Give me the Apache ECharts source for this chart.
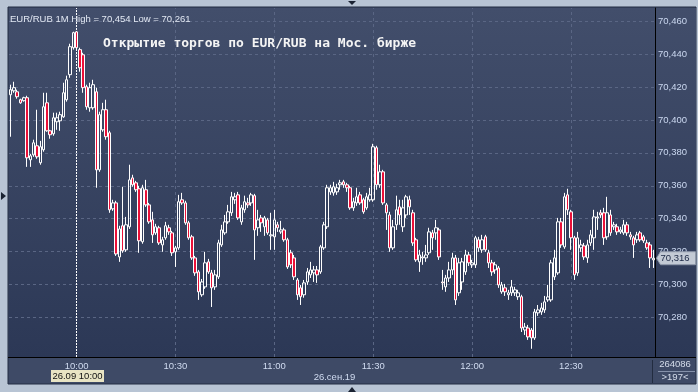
<!DOCTYPE html>
<html><head><meta charset="utf-8">
<script src="https://cdn.jsdelivr.net/npm/echarts@6/dist/echarts.min.js"></script>
<style>html,body{margin:0;padding:0;background:#b8c4d4;overflow:hidden}#c{width:698px;height:392px}</style>
</head><body><div id="c"></div>
<script>
// ---- data ----
const startMinute = 9 * 60 + 40;   // first bar 9:40
const barCount = 196;
const xTickLabels = ['10:00', '10:30', '11:00', '11:30', '12:00', '12:30'];
const crosshairTime = '10:00';
const yTicks = [70.28, 70.30, 70.32, 70.34, 70.36, 70.38, 70.40, 70.42, 70.44, 70.46];
const infoText = 'EUR/RUB 1M High = 70,454 Low = 70,261';
const titleText = 'Открытие торгов по EUR/RUB на Мос. бирже';
const dateText = '26.09 10:00';
const dayText = '26.сен.19';
const volumeText = '264086';
const barsText = '>197<';

const opens = [
70.4153,70.4177,70.4171,70.4123,70.4117,70.4135,70.3758,70.3788,70.3843,70.3740,
70.3819,70.4104,70.3934,70.3916,70.3989,70.3995,70.4019,70.4123,70.4275,70.4439,
70.4535,70.4427,70.4396,70.4202,70.4074,70.4074,70.4171,70.3697,70.3940,70.4062,
70.3922,70.3460,70.3496,70.3168,70.3357,70.3211,70.3351,70.3648,70.3618,70.3582,
70.3260,70.3576,70.3484,70.3393,70.3314,70.3345,70.3241,70.3284,70.3345,70.3314,
70.3199,70.3223,70.3515,70.3496,70.3375,70.3290,70.3162,70.3077,70.2938,70.2986,
70.3138,70.3071,70.2986,70.3047,70.3241,70.3314,70.3381,70.3436,70.3515,70.3545,
70.3381,70.3454,70.3496,70.3496,70.3540,70.3345,70.3405,70.3351,70.3393,70.3296,
70.3290,70.3363,70.3320,70.3332,70.3272,70.3193,70.3162,70.3028,70.2980,70.2938,
70.3016,70.3059,70.3071,70.3089,70.3077,70.3223,70.3351,70.3563,70.3557,70.3563,
70.3606,70.3624,70.3606,70.3588,70.3466,70.3496,70.3545,70.3515,70.3466,70.3515,
70.3515,70.3831,70.3606,70.3685,70.3484,70.3423,70.3223,70.3363,70.3472,70.3351,
70.3423,70.3515,70.3436,70.3272,70.3138,70.3162,70.3162,70.3193,70.3314,70.3314,
70.3332,70.3016,70.2986,70.3040,70.3089,70.3162,70.2950,70.3016,70.3077,70.3180,
70.3120,70.3120,70.3272,70.3211,70.3290,70.3193,70.3132,70.3089,70.3101,70.2956,
70.2980,70.2938,70.2950,70.2950,70.2926,70.2926,70.2724,70.2736,70.2724,70.2676,
70.2828,70.2834,70.2846,70.2907,70.2907,70.3047,70.3071,70.3381,70.3229,70.3545,
70.3442,70.3284,70.3071,70.3223,70.3235,70.3162,70.3253,70.3284,70.3405,70.3436,
70.3436,70.3290,70.3423,70.3351,70.3351,70.3320,70.3314,70.3363,70.3302,70.3284,
70.3272,70.3314,70.3290,70.3253,70.3241,70.3150];
const closes = [
70.4184,70.4196,70.4141,70.4104,70.4135,70.3770,70.3782,70.3861,70.3776,70.3837,
70.4080,70.3934,70.3910,70.4013,70.4013,70.4032,70.4165,70.4244,70.4445,70.4530,
70.4439,70.4317,70.4196,70.4080,70.4196,70.4214,70.3697,70.4032,70.4062,70.3898,
70.3454,70.3496,70.3186,70.3338,70.3205,70.3363,70.3636,70.3606,70.3576,70.3266,
70.3588,70.3484,70.3381,70.3302,70.3351,70.3253,70.3272,70.3357,70.3320,70.3193,
70.3223,70.3503,70.3496,70.3375,70.3284,70.3162,70.3071,70.2956,70.3016,70.3132,
70.3077,70.2980,70.3059,70.3253,70.3332,70.3381,70.3442,70.3533,70.3533,70.3405,
70.3466,70.3503,70.3484,70.3545,70.3332,70.3393,70.3375,70.3405,70.3314,70.3302,
70.3393,70.3345,70.3332,70.3272,70.3107,70.3120,70.3047,70.2938,70.2926,70.3010,
70.3077,70.3089,70.3089,70.3059,70.3229,70.3363,70.3588,70.3588,70.3594,70.3588,
70.3618,70.3606,70.3588,70.3466,70.3503,70.3533,70.3496,70.3442,70.3533,70.3545,
70.3837,70.3606,70.3685,70.3496,70.3436,70.3223,70.3351,70.3454,70.3423,70.3466,
70.3533,70.3472,70.3253,70.3150,70.3180,70.3168,70.3180,70.3320,70.3284,70.3345,
70.3168,70.3010,70.3040,70.3089,70.3162,70.2907,70.3132,70.3138,70.3180,70.3132,
70.3132,70.3284,70.3223,70.3272,70.3211,70.3132,70.3077,70.3120,70.2998,70.2998,
70.2956,70.2950,70.2986,70.2968,70.2950,70.2736,70.2742,70.2682,70.2676,70.2834,
70.2846,70.2858,70.2895,70.2925,70.3132,70.3162,70.3381,70.3241,70.3533,70.3454,
70.3284,70.3059,70.3284,70.3241,70.3168,70.3241,70.3302,70.3411,70.3411,70.3423,
70.3284,70.3436,70.3314,70.3363,70.3320,70.3332,70.3363,70.3314,70.3290,70.3241,
70.3302,70.3272,70.3266,70.3223,70.3162,70.3160];
const lows = [
70.3898,70.4165,70.4129,70.4098,70.4111,70.3715,70.3715,70.3776,70.3764,70.3728,
70.3807,70.3928,70.3886,70.3904,70.3940,70.3934,70.4013,70.4111,70.4256,70.4427,
70.4427,70.4293,70.4165,70.4062,70.4050,70.4062,70.3588,70.3685,70.3928,70.3880,
70.3436,70.3448,70.3174,70.3138,70.3193,70.3199,70.3338,70.3594,70.3563,70.3193,
70.3248,70.3472,70.3369,70.3253,70.3302,70.3241,70.3199,70.3272,70.3302,70.3174,
70.3107,70.3211,70.3484,70.3363,70.3272,70.3150,70.3053,70.2907,70.2926,70.2974,
70.3065,70.2864,70.2968,70.3034,70.3229,70.3302,70.3369,70.3417,70.3490,70.3393,
70.3363,70.3436,70.3466,70.3478,70.3150,70.3296,70.3320,70.3296,70.3302,70.3211,
70.3211,70.3320,70.3308,70.3260,70.3095,70.3101,70.3028,70.2907,70.2876,70.2920,
70.2998,70.3040,70.3016,70.3010,70.3065,70.3211,70.3338,70.3545,70.3540,70.3545,
70.3576,70.3588,70.3563,70.3454,70.3448,70.3478,70.3484,70.3430,70.3454,70.3503,
70.3503,70.3576,70.3588,70.3484,70.3332,70.3199,70.3211,70.3332,70.3363,70.3320,
70.3405,70.3423,70.3235,70.3138,70.3077,70.3120,70.3138,70.3180,70.3211,70.3272,
70.3150,70.2968,70.2956,70.3016,70.3059,70.2876,70.2931,70.2968,70.3059,70.3113,
70.3101,70.3101,70.3199,70.3193,70.3199,70.3101,70.3053,70.3065,70.2980,70.2944,
70.2931,70.2907,70.2931,70.2931,70.2907,70.2712,70.2694,70.2664,70.2610,70.2664,
70.2810,70.2816,70.2828,70.2895,70.2895,70.3028,70.3059,70.3223,70.3217,70.3423,
70.3211,70.3028,70.3053,70.3199,70.3150,70.3132,70.3235,70.3211,70.3332,70.3405,
70.3241,70.3272,70.3296,70.3332,70.3302,70.3308,70.3302,70.3296,70.3272,70.3162,
70.3253,70.3260,70.3253,70.3211,70.3101,70.3101];
const highs = [
70.4214,70.4232,70.4184,70.4129,70.4141,70.4147,70.3794,70.3880,70.4062,70.3873,
70.4165,70.4165,70.3940,70.4044,70.4044,70.4050,70.4226,70.4269,70.4463,70.4536,
70.4540,70.4439,70.4408,70.4214,70.4226,70.4244,70.4196,70.4050,70.4104,70.4123,
70.3934,70.3515,70.3509,70.3357,70.3594,70.3411,70.3728,70.3667,70.3630,70.3600,
70.3606,70.3636,70.3496,70.3442,70.3369,70.3357,70.3290,70.3381,70.3363,70.3326,
70.3235,70.3545,70.3557,70.3509,70.3387,70.3302,70.3174,70.3089,70.3034,70.3199,
70.3156,70.3089,70.3089,70.3272,70.3363,70.3423,70.3484,70.3563,70.3557,70.3563,
70.3484,70.3540,70.3527,70.3557,70.3551,70.3454,70.3423,70.3417,70.3405,70.3436,
70.3454,70.3381,70.3387,70.3345,70.3284,70.3211,70.3180,70.3040,70.2998,70.3028,
70.3101,70.3138,70.3113,70.3113,70.3241,70.3381,70.3606,70.3606,70.3624,70.3612,
70.3636,70.3636,70.3618,70.3600,70.3527,70.3588,70.3563,70.3527,70.3557,70.3588,
70.3855,70.3843,70.3728,70.3697,70.3496,70.3442,70.3393,70.3540,70.3515,70.3515,
70.3545,70.3540,70.3454,70.3284,70.3211,70.3199,70.3241,70.3345,70.3332,70.3393,
70.3345,70.3089,70.3059,70.3138,70.3193,70.3180,70.3162,70.3162,70.3211,70.3199,
70.3150,70.3296,70.3290,70.3302,70.3302,70.3211,70.3150,70.3138,70.3113,70.3016,
70.3004,70.2968,70.3028,70.2986,70.2968,70.2938,70.2767,70.2755,70.2736,70.2852,
70.2876,70.2889,70.2931,70.2998,70.3150,70.3211,70.3405,70.3405,70.3557,70.3582,
70.3454,70.3296,70.3320,70.3272,70.3253,70.3272,70.3332,70.3454,70.3442,70.3454,
70.3466,70.3533,70.3454,70.3381,70.3369,70.3351,70.3393,70.3381,70.3320,70.3296,
70.3320,70.3326,70.3302,70.3272,70.3259,70.3211];

// ---- build ----
const categories = [];
for (let i = 0; i < barCount; i++) {
  const m = startMinute + i;
  categories.push(Math.floor(m / 60) + ':' + String(m % 60).padStart(2, '0'));
}
const candleData = opens.map((o, i) => [o, closes[i], lows[i], highs[i]]);
const fmt = v => v.toFixed(3).replace('.', ',');

const FONT = 'Liberation Sans';
const gridColor = '#5a6684';
const chart = echarts.init(document.getElementById('c'), null, {renderer: 'canvas'});

const option = {
  animation: false,
  backgroundColor: '#b8c4d4',
  title: [
    {text: titleText, left: 103, top: 37, padding: 0,
     textStyle: {color: '#f4f4f4', fontFamily: 'DejaVu Sans Mono', fontSize: 13, fontWeight: 'bold'}},
    {text: infoText, left: 10, top: 14, padding: 0,
     textStyle: {color: '#e2e8f3', fontFamily: FONT, fontSize: 9.5, fontWeight: 'normal'}}
  ],
  grid: {left: 9, right: 43, top: 8, bottom: 35, containLabel: false},
  xAxis: {
    type: 'category', data: categories, boundaryGap: true,
    axisLine: {show: false}, axisTick: {show: false},
    axisLabel: {
      interval: (idx, val) => xTickLabels.indexOf(val) >= 0,
      color: '#d0dbf0', fontFamily: FONT, fontSize: 9.5, margin: 4
    },
    splitLine: {show: false}
  },
  yAxis: {
    type: 'value', position: 'right', min: 70.256, max: 70.468, scale: true,
    axisLine: {show: true, lineStyle: {color: '#000000', width: 1}},
    axisTick: {show: false, customValues: yTicks},
    axisLabel: {customValues: yTicks, formatter: fmt, color: '#cbd8f0', fontFamily: FONT, fontSize: 9.5, margin: 3},
    splitLine: {show: false}
  },
  series: [{
    type: 'candlestick',
    data: candleData,
    barWidth: 3,
    itemStyle: {
      color: 'rgba(0,0,0,0)', color0: '#ea1038',
      borderColor: '#ffffff', borderColor0: '#ffffff', borderColorDoji: '#ffffff', borderWidth: 1
    },
    markLine: {
      silent: true, symbol: 'none', z: 1, animation: false,
      label: {show: false},
      data: [].concat(
        yTicks.map(v => ({yAxis: v, lineStyle: {color: gridColor, type: [3, 3], width: 1}})),
        xTickLabels.filter(t => t !== crosshairTime).map(t => ({xAxis: t, lineStyle: {color: gridColor, type: [3, 3], width: 1}})),
        [{xAxis: crosshairTime, lineStyle: {color: '#ffffff', type: [2, 1], width: 1}}]
      )
    }
  }],
  graphic: [
    {type: 'rect', z: -20, shape: {x: 8, y: 7, width: 688, height: 377}, style: {fill: '#3e4a66', stroke: '#232d42', lineWidth: 1}},
    {type: 'rect', z: -19, shape: {x: 9, y: 8, width: 687, height: 349},
     style: {fill: new echarts.graphic.LinearGradient(0, 0, 0, 1, [{offset: 0, color: '#424e6b'}, {offset: 1, color: '#2c3856'}])}},
    {type: 'line', z: 50, shape: {x1: 8, y1: 357.5, x2: 696, y2: 357.5}, style: {stroke: '#000000', lineWidth: 1}},
    {type: 'line', z: 50, shape: {x1: 652.5, y1: 360, x2: 652.5, y2: 383}, style: {stroke: '#222c40', lineWidth: 1}},
    {type: 'line', z: 50, shape: {x1: 658, y1: 371.5, x2: 695, y2: 371.5}, style: {stroke: '#8591aa', lineWidth: 1}},
    {type: 'text', z: 50, x: 675, y: 364.5, style: {text: volumeText, fill: '#d5ddeb', font: '9.5px ' + FONT, align: 'center', verticalAlign: 'middle'}},
    {type: 'text', z: 50, x: 675, y: 377.5, style: {text: barsText, fill: '#d5ddeb', font: '9.5px ' + FONT, align: 'center', verticalAlign: 'middle'}},
    {type: 'text', z: 50, x: 334.5, y: 377.5, style: {text: dayText, fill: '#d0dbf0', font: '9.5px ' + FONT, align: 'center', verticalAlign: 'middle'}},
    {type: 'polygon', z: 50, shape: {points: [[348, 1], [356, 1], [352, 5]]}, style: {fill: '#1a2232'}},
    {type: 'polygon', z: 50, shape: {points: [[348, 392], [356, 392], [352, 387]]}, style: {fill: '#1a2232'}},
    {type: 'polygon', z: 50, shape: {points: [[1, 192], [1, 200], [6, 196]]}, style: {fill: '#1a2232'}}
  ]
};
chart.setOption(option);

// labels tied to data positions
const xCross = chart.convertToPixel({xAxisIndex: 0}, crosshairTime);
const lastClose = closes[closes.length - 1];
const yLast = chart.convertToPixel({yAxisIndex: 0}, lastClose);
chart.setOption({
  graphic: option.graphic.concat([
    {type: 'rect', z: 60, shape: {x: Math.round(xCross) - 26, y: 370, width: 53, height: 12}, style: {fill: '#e8e4c4'}},
    {type: 'text', z: 61, x: Math.round(xCross) + 0.5, y: 376.5, style: {text: dateText, fill: '#111111', font: '9.5px ' + FONT, align: 'center', verticalAlign: 'middle'}},
    {type: 'polygon', z: 60, shape: {points: [[656.5, yLast], [660.5, yLast - 6.5], [695.5, yLast - 6.5], [695.5, yLast + 6.5], [660.5, yLast + 6.5]]},
     style: {fill: '#c3cad5', stroke: '#8e98aa', lineWidth: 1}},
    {type: 'text', z: 61, x: 675, y: yLast + 0.5, style: {text: fmt(lastClose), fill: '#1b2744', font: '9.5px ' + FONT, align: 'center', verticalAlign: 'middle'}}
  ])
});
</script></body></html>
